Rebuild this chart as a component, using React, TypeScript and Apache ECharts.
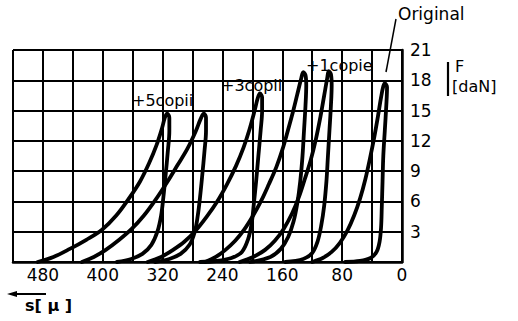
import React, { useEffect, useRef } from "react";
import * as echarts from "echarts";

// x: displacement s [μ], y: force F [daN]
const xTickLabels = [0, 80, 160, 240, 320, 400, 480];
const yTickLabels = [3, 6, 9, 12, 15, 18, 21];

// each loop: loading branch (bottom -> peak), unloading branch (peak -> bottom)
const loop1Load = [[487, 0], [466, 0.5], [444, 1.3], [422, 2.2], [401, 3.2], [382, 4.6], [364, 6.4], [350, 8.0], [338, 9.8], [328, 11.6], [321, 13.2], [317, 14.3], [314, 14.7]];
const loop1Unload = [[311, 14.3], [311, 13.0], [313, 11.0], [316, 8.6], [319, 6.4], [322, 4.6], [327, 3.0], [335, 1.7], [347, 0.8], [362, 0.3], [381, 0]];

const loop2Load = [[428, 0], [412, 0.5], [396, 1.2], [378, 2.2], [361, 3.3], [345, 4.6], [330, 6.1], [314, 7.9], [300, 9.6], [287, 11.2], [276, 12.9], [269, 14.2], [265, 14.7]];
const loop2Unload = [[262, 14.3], [262, 13.0], [264, 11.0], [267, 8.6], [270, 6.4], [273, 4.6], [277, 3.0], [284, 1.7], [296, 0.8], [311, 0.3], [330, 0]];

const loop3Load = [[340, 0], [322, 0.5], [306, 1.2], [291, 2.0], [276, 3.1], [261, 4.5], [247, 6.0], [234, 7.7], [222, 9.5], [212, 11.3], [204, 13.1], [197, 15.0], [193, 16.2], [190, 16.7]];
const loop3Unload = [[187, 16.3], [187, 15.0], [189, 13.0], [192, 10.5], [195, 8.0], [198, 5.8], [201, 3.8], [206, 2.2], [214, 1.0], [228, 0.4], [248, 0.1], [270, 0]];

const loop4Load = [[263, 0], [249, 0.5], [236, 1.2], [223, 2.1], [211, 3.2], [199, 4.6], [188, 6.1], [178, 7.7], [168, 9.4], [160, 11.1], [153, 12.9], [146, 14.8], [140, 16.6], [135, 18.1], [132, 18.8]];
const loop4Unload = [[129, 18.5], [128, 17.5], [129, 15.5], [131, 13.0], [133, 10.5], [136, 8.0], [140, 5.8], [145, 4.0], [152, 2.5], [162, 1.3], [176, 0.5], [203, 0]];

const loop5Load = [[217, 0], [199, 0.5], [183, 1.2], [170, 2.1], [158, 3.3], [147, 4.8], [138, 6.4], [130, 8.2], [122, 10.1], [115, 12.2], [109, 14.4], [104, 16.5], [100, 18.2], [98, 18.9]];
const loop5Unload = [[95, 18.6], [94, 17.5], [95, 15.5], [97, 13.0], [99, 10.5], [101, 8.0], [104, 5.6], [108, 3.6], [113, 2.0], [120, 0.9], [132, 0.3], [156, 0]];

const origLoad = [[120, 0], [106, 0.4], [94, 1.0], [83, 1.9], [73, 3.1], [64, 4.6], [56, 6.3], [49, 8.2], [43, 10.2], [37, 12.4], [32, 14.5], [28, 16.3], [25, 17.4], [23, 17.7]];
const origUnload = [[20, 17.3], [21, 15.5], [23, 13.0], [25, 10.5], [26, 8.0], [27, 5.5], [28, 3.4], [30, 2.0], [34, 1.0], [42, 0.4], [56, 0.1], [76, 0]];

const loops = [
  [loop1Load, loop1Unload],
  [loop2Load, loop2Unload],
  [loop3Load, loop3Unload],
  [loop4Load, loop4Unload],
  [loop5Load, loop5Unload],
  [origLoad, origUnload],
];

const FONT = "DejaVu Sans";

export default function App() {
  const ref = useRef<HTMLDivElement>(null);
  useEffect(() => {
    if (!ref.current) return;
    const chart = echarts.init(ref.current, null, { renderer: "svg" });
    chart.setOption({
      animation: false,
      backgroundColor: "#fff",
      grid: { left: 13, top: 50, right: 116, bottom: 59 },
      xAxis: {
        type: "value",
        inverse: true,
        min: 0,
        max: 520,
        interval: 40,
        axisLine: { show: true, lineStyle: { color: "#000", width: 2.5 } },
        axisTick: { show: false },
        splitLine: { show: true, lineStyle: { color: "#000", width: 2 } },
        axisLabel: {
          color: "#000",
          fontFamily: FONT,
          fontSize: 17,
          margin: 4,
          formatter: (v: number) => (xTickLabels.includes(v) ? String(v) : ""),
        },
      },
      yAxis: {
        type: "value",
        position: "right",
        min: 0,
        max: 21,
        interval: 3,
        axisLine: { show: true, lineStyle: { color: "#000", width: 2.5 } },
        axisTick: { show: false },
        splitLine: { show: true, lineStyle: { color: "#000", width: 2 } },
        axisLabel: {
          color: "#000",
          fontFamily: FONT,
          fontSize: 17,
          margin: 8,
          formatter: (v: number) => (yTickLabels.includes(v) ? String(v) : ""),
        },
      },
      series: loops.map(([load, unload]) => ({
        type: "line",
        data: (load as number[][]).concat(unload as number[][]),
        smooth: 0.35,
        showSymbol: false,
        lineStyle: { color: "#000", width: 3.8, join: "round", cap: "round" },
        z: 5,
      })),
      graphic: [
        { type: "text", x: 132, y: 100, style: { text: "+5copii", font: `16px ${FONT}`, fill: "#000", textVerticalAlign: "middle" }, z: 10 },
        { type: "text", x: 221, y: 85, style: { text: "+3copii", font: `16px ${FONT}`, fill: "#000", textVerticalAlign: "middle" }, z: 10 },
        { type: "text", x: 306, y: 65, style: { text: "+1copie", font: `16px ${FONT}`, fill: "#000", textVerticalAlign: "middle" }, z: 10 },
        { type: "text", x: 398, y: 14, style: { text: "Original", font: `17px ${FONT}`, fill: "#000", textVerticalAlign: "middle" }, z: 10 },
        { type: "line", shape: { x1: 396, y1: 19, x2: 386, y2: 72 }, style: { stroke: "#000", lineWidth: 1.5 }, z: 10 },
        { type: "line", shape: { x1: 448, y1: 62, x2: 448, y2: 96 }, style: { stroke: "#000", lineWidth: 2.2 }, z: 10 },
        { type: "text", x: 455, y: 66, style: { text: "F", font: `16px ${FONT}`, fill: "#000", textVerticalAlign: "middle" }, z: 10 },
        { type: "text", x: 452, y: 86, style: { text: "[daN]", font: `16px ${FONT}`, fill: "#000", textVerticalAlign: "middle" }, z: 10 },
        { type: "line", shape: { x1: 12, y1: 294, x2: 46, y2: 294 }, style: { stroke: "#000", lineWidth: 2 }, z: 10 },
        { type: "polygon", shape: { points: [[7, 294], [17, 291], [17, 297]] }, style: { fill: "#000" }, z: 10 },
        { type: "text", x: 25, y: 305, style: { text: "s[ μ ]", font: `bold 16px ${FONT}`, fill: "#000", textVerticalAlign: "middle" }, z: 10 },
      ],
    });
    return () => chart.dispose();
  }, []);
  return (
    <div
      ref={ref}
      style={{ position: "absolute", left: 0, top: 0, width: 518, height: 321 }}
    />
  );
}
